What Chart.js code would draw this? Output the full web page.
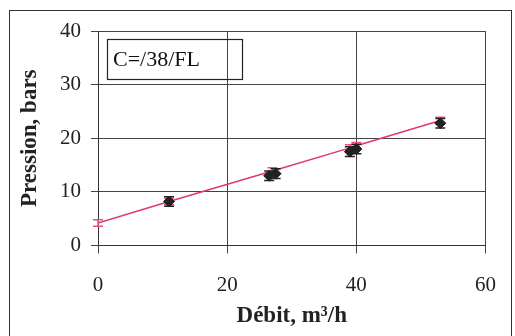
<!DOCTYPE html>
<html>
<head>
<meta charset="utf-8">
<script src="https://cdn.jsdelivr.net/npm/chart.js@4/dist/chart.umd.min.js"></script>
<style>
    html, body { margin: 0; padding: 0; background: #fff; }
    #wrap { width: 515px; height: 336px; }
</style>
</head>
<body>
<div id="wrap"><canvas id="graficoPression" width="515" height="336"></canvas></div>
<script>
// Mesures (débit en m3/h, pression en bars)
const debit = [11, 26.5, 27.5, 39, 40, 53];
const pression = [8.2, 13.0, 13.4, 17.5, 18.0, 22.8];
const erreurMesure = [0.9, 0.9, 0.9, 0.9, 0.9, 0.9];

// Droite de régression
const debitFit = [0, 11, 27, 39, 40, 53];
const pressionFit = [4.2, 8.2, 13.9, 18.2, 18.6, 23.3];
const erreurFit = [0.6, 0.6, 0.6, 0.6, 0.6, 0.6];

const ticksX = [0, 20, 40, 60];
const ticksY = [0, 10, 20, 30, 40];
const etiquette = 'C=/38/FL';

const serif = '"Liberation Serif", "Times New Roman", serif';

// barres d'erreur verticales
const barresErreur = {
    id: 'barresErreur',
    afterDatasetDraw(chart, args) {
        const ds = chart.data.datasets[args.index];
        if (!ds.erreurs) return;
        const ctx = chart.ctx;
        const y = chart.scales.y;
        ctx.save();
        ctx.strokeStyle = ds.couleurErreur;
        ctx.lineWidth = 1.5;
        args.meta.data.forEach((pt, i) => {
            const v = ds.data[i].y;
            const e = ds.erreurs[i];
            const y1 = y.getPixelForValue(v + e);
            const y2 = y.getPixelForValue(v - e);
            ctx.beginPath();
            ctx.moveTo(pt.x, y1); ctx.lineTo(pt.x, y2);
            ctx.moveTo(pt.x - 5, y1); ctx.lineTo(pt.x + 5, y1);
            ctx.moveTo(pt.x - 5, y2); ctx.lineTo(pt.x + 5, y2);
            ctx.stroke();
        });
        ctx.restore();
    }
};

// cadre extérieur + étiquette
const cadre = {
    id: 'cadre',
    beforeDraw(chart) {
        const ctx = chart.ctx;
        ctx.save();
        ctx.strokeStyle = '#333';
        ctx.lineWidth = 1;
        ctx.strokeRect(9.5, 10.5, 502, 340);
        ctx.restore();
    },
    afterDraw(chart) {
        const ctx = chart.ctx;
        ctx.save();
        ctx.strokeStyle = '#222';
        ctx.lineWidth = 1.2;
        ctx.strokeRect(107.5, 39.5, 135, 40);
        ctx.fillStyle = '#111';
        ctx.font = '22px ' + serif;
        ctx.textBaseline = 'alphabetic';
        ctx.fillText(etiquette, 113, 66);
        ctx.restore();
    }
};

const ctx = document.getElementById('graficoPression').getContext('2d');
new Chart(ctx, {
    type: 'scatter',
    data: {
        datasets: [
            {
                label: 'Mesures',
                order: 0,
                data: debit.map((x, i) => ({ x: x, y: pression[i] })),
                backgroundColor: '#222',
                borderColor: '#222',
                pointStyle: 'rectRot',
                pointRadius: 5.5,
                erreurs: erreurMesure,
                couleurErreur: '#222'
            },
            {
                label: 'Régression',
                order: 1,
                type: 'line',
                data: debitFit.map((x, i) => ({ x: x, y: pressionFit[i] })),
                borderColor: '#e0357a',
                borderWidth: 1.5,
                pointRadius: 0,
                fill: false,
                erreurs: erreurFit,
                couleurErreur: '#e8508a'
            }
        ]
    },
    options: {
        responsive: false,
        devicePixelRatio: 1,
        animation: false,
        layout: { padding: { left: 0, right: 19, top: 31, bottom: 0 } },
        plugins: {
            legend: { display: false },
            tooltip: { enabled: false }
        },
        scales: {
            x: {
                type: 'linear',
                min: 0, max: 60,
                afterBuildTicks: s => { s.ticks = ticksX.map(v => ({ value: v })); },
                afterFit: s => { s.height = 90.5; },
                grid: { color: '#444', lineWidth: 1, tickLength: 8, tickColor: '#444' },
                border: { color: '#333', width: 1 },
                ticks: { color: '#222', padding: 19, maxRotation: 0, font: { family: serif, size: 21 } },
                title: {
                    display: true,
                    text: 'Débit, m³/h',
                    color: '#222',
                    font: { family: serif, size: 23, weight: 'bold' },
                    padding: { top: 0, bottom: 6 }
                }
            },
            y: {
                min: 0, max: 40,
                afterBuildTicks: s => { s.ticks = ticksY.map(v => ({ value: v })); },
                afterFit: s => { s.width = 98; },
                grid: { color: '#444', lineWidth: 1, tickLength: 7, tickColor: '#444' },
                border: { color: '#333', width: 1 },
                ticks: { color: '#222', padding: 10, font: { family: serif, size: 21 } },
                title: {
                    display: true,
                    text: 'Pression, bars',
                    color: '#222',
                    font: { family: serif, size: 23, weight: 'bold' },
                    padding: { top: 16, bottom: 0 }
                }
            }
        }
    },
    plugins: [barresErreur, cadre]
});
</script>
</body>
</html>
